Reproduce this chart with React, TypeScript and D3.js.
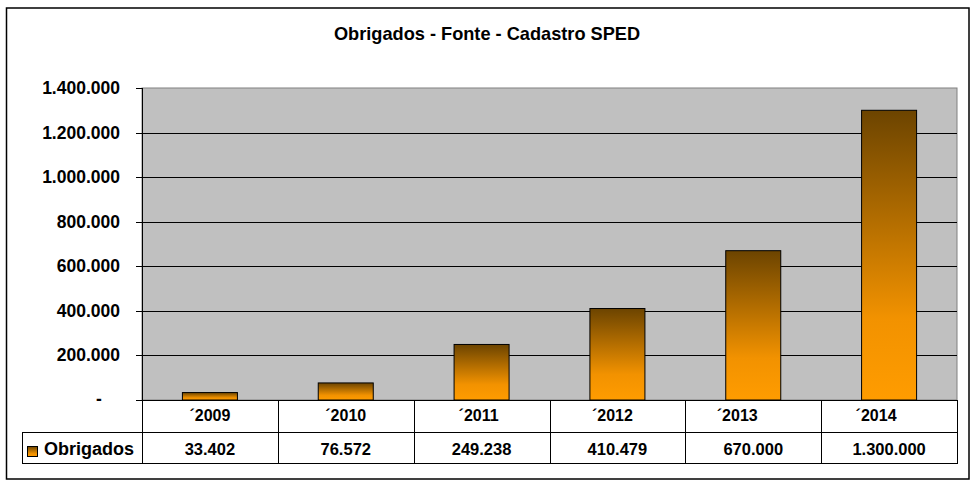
import React from "react";
import * as d3 from "d3";

const title = "Obrigados - Fonte - Cadastro SPED";
const seriesName = "Obrigados";
const categories = ["´2009", "´2010", "´2011", "´2012", "´2013", "´2014"];
const values = [33402, 76572, 249238, 410479, 670000, 1300000];
const yTicks = [0, 200000, 400000, 600000, 800000, 1000000, 1200000, 1400000];
// small horizontal nudges of the category labels as drawn in the original
const catNudge = [0, 0, -3, -5, -16, -13];

const W = 975;
const H = 485;
const plot = { left: 142, right: 957, top: 88, bottom: 400 };
const row1Bottom = 432;
const row2Bottom = 463;
const tableLeft = 22;

const ptBR = d3.formatLocale({
  decimal: ",",
  thousands: ".",
  grouping: [3],
  currency: ["R$", ""],
});
const fmt = ptBR.format(",.0f");

export default function App() {
  const x = d3
    .scaleBand<string>()
    .domain(categories)
    .range([plot.left, plot.right])
    .paddingInner(0.595)
    .paddingOuter(0.2975);
  const col = d3
    .scaleBand<string>()
    .domain(categories)
    .range([plot.left, plot.right])
    .padding(0);
  const y = d3
    .scaleLinear()
    .domain([0, 1400000])
    .range([plot.bottom, plot.top]);

  const font = "'Liberation Sans', Arial, sans-serif";
  const colEdges = categories.map((c) => col(c) as number).concat([plot.right]);

  return (
    <svg
      width={W}
      height={H}
      style={{ position: "absolute", left: 0, top: 0, background: "#fff" }}
      fontFamily={font}
      fontWeight="bold"
    >
      <defs>
        <linearGradient id="barGrad" x1="0" y1="0" x2="0" y2="1">
          <stop offset="0" stopColor="#6C4400" />
          <stop offset="0.72" stopColor="#F29200" />
          <stop offset="1" stopColor="#FF9C00" />
        </linearGradient>
      </defs>
      <rect x={0} y={0} width={W} height={H} fill="#fff" />
      {/* outer chart border */}
      <rect
        x={6.5}
        y={8}
        width={962.5}
        height={471}
        fill="none"
        stroke="#000"
        strokeWidth={1.5}
      />
      {/* title */}
      <text x={487} y={40} textAnchor="middle" fontSize={18.2} fill="#000">
        {title}
      </text>

      {/* plot area */}
      <rect
        x={plot.left}
        y={plot.top}
        width={plot.right - plot.left}
        height={plot.bottom - plot.top}
        fill="#C0C0C0"
        stroke="#808080"
        strokeWidth={1}
      />
      {yTicks.slice(1, -1).map((t) => (
        <line
          key={"g" + t}
          x1={plot.left}
          x2={plot.right}
          y1={Math.round(y(t)) + 0.5}
          y2={Math.round(y(t)) + 0.5}
          stroke="#000"
          strokeWidth={1}
        />
      ))}
      {/* y axis line and ticks */}
      <line
        x1={plot.left + 0.5}
        x2={plot.left + 0.5}
        y1={plot.top}
        y2={plot.bottom}
        stroke="#000"
      />
      {yTicks.map((t) => (
        <line
          key={"t" + t}
          x1={136}
          x2={plot.left}
          y1={Math.round(y(t)) + 0.5}
          y2={Math.round(y(t)) + 0.5}
          stroke="#000"
        />
      ))}
      {yTicks.map((t) =>
        t === 0 ? (
          <text
            key={"l" + t}
            x={99}
            y={y(t) + 5}
            textAnchor="middle"
            fontSize={17.5}
            fill="#000"
          >
            -
          </text>
        ) : (
          <text
            key={"l" + t}
            x={120}
            y={y(t) + 6}
            textAnchor="end"
            fontSize={17.5}
            fill="#000"
          >
            {fmt(t)}
          </text>
        )
      )}

      {/* bars */}
      {categories.map((c, i) => (
        <rect
          key={"b" + c}
          x={x(c)}
          y={y(values[i])}
          width={x.bandwidth()}
          height={y(0) - y(values[i])}
          fill="url(#barGrad)"
          stroke="#000"
          strokeWidth={1}
        />
      ))}

      {/* data table */}
      <g stroke="#000" strokeWidth={1} fill="none">
        <line x1={136} x2={plot.right} y1={plot.bottom + 0.5} y2={plot.bottom + 0.5} />
        <line x1={tableLeft} x2={plot.right} y1={row1Bottom + 0.5} y2={row1Bottom + 0.5} />
        <line x1={tableLeft} x2={plot.right} y1={row2Bottom + 0.5} y2={row2Bottom + 0.5} />
        <line x1={tableLeft + 0.5} x2={tableLeft + 0.5} y1={row1Bottom} y2={row2Bottom + 1} />
        {colEdges.map((e, i) => (
          <line
            key={"v" + i}
            x1={Math.round(e) + 0.5}
            x2={Math.round(e) + 0.5}
            y1={plot.bottom}
            y2={row2Bottom + 1}
          />
        ))}
      </g>
      {categories.map((c, i) => (
        <text
          key={"c" + c}
          x={(col(c) as number) + col.bandwidth() / 2 + catNudge[i]}
          y={421}
          textAnchor="middle"
          fontSize={16}
          fill="#000"
        >
          {c}
        </text>
      ))}
      {categories.map((c, i) => (
        <text
          key={"v" + c}
          x={(col(c) as number) + col.bandwidth() / 2}
          y={455}
          textAnchor="middle"
          fontSize={16.5}
          fill="#000"
        >
          {fmt(values[i])}
        </text>
      ))}
      {/* legend key */}
      <rect
        x={27.5}
        y={446.5}
        width={10}
        height={10}
        fill="url(#barGrad)"
        stroke="#000"
        strokeWidth={1}
      />
      <text x={44} y={455} fontSize={18} fill="#000">
        {seriesName}
      </text>
    </svg>
  );
}
